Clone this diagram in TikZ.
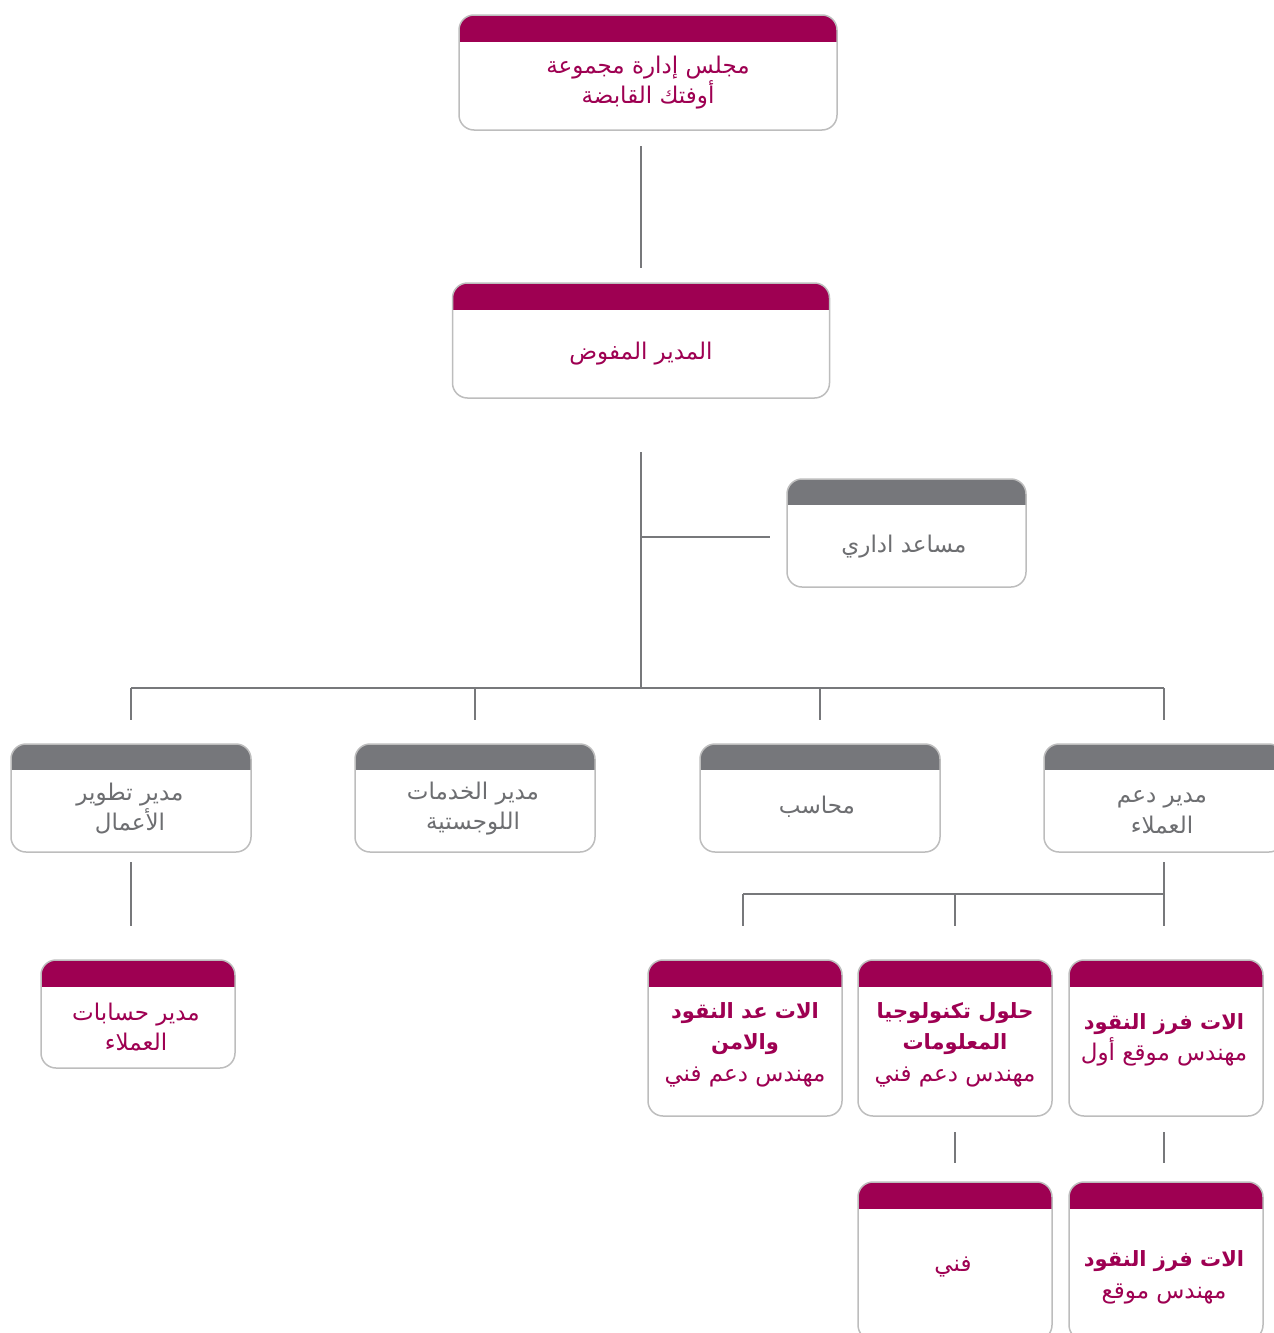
\documentclass[tikz,border=0pt]{standalone}
\usepackage{fontspec}
\usetikzlibrary{calc}
\TeXXeTstate=1
\newfontfamily\arabicfont[Script=Arabic]{DejaVu Sans}
\definecolor{mag}{HTML}{9E0052}
\definecolor{hgray}{HTML}{76777B}
\definecolor{bgray}{HTML}{BDBDBD}
\definecolor{lgray}{HTML}{77787B}
\definecolor{tgray}{HTML}{6D6E71}
\newcommand{\bt}[1]{{\fontsize{21pt}{30pt}\selectfont\bfseries\beginR #1\endR}}
\tikzset{
  orgbox/.style={draw=bgray, line width=1.5pt, fill=white, rounded corners=15pt, inner sep=0pt, outer sep=0pt},
  hdrm/.style={path picture={\fill[mag,sharp corners] ([yshift=2pt]path picture bounding box.north west) rectangle ([yshift=-27pt]path picture bounding box.north east);}},
  hdrg/.style={path picture={\fill[hgray,sharp corners] ([yshift=2pt]path picture bounding box.north west) rectangle ([yshift=-26pt]path picture bounding box.north east);}},
  txt/.style={font=\arabicfont\fontsize{23pt}{30pt}\selectfont, align=center, inner sep=0pt},
  mtxt/.style={txt, text=mag},
  gtxt/.style={txt, text=tgray},
  conn/.style={draw=lgray, line width=1.5pt}
}
\begin{document}
\begin{tikzpicture}[x=1pt,y=-1pt]
\useasboundingbox (0,0) rectangle (1274,1333);
% boxes
\node[orgbox,hdrm,minimum width=378pt,minimum height=115pt] (board) at (648,72.5) {};
\node[orgbox,hdrm,minimum width=377pt,minimum height=115pt] (ceo) at (641,340.5) {};
\node[orgbox,hdrg,minimum width=239pt,minimum height=108pt] (asst) at (906.5,533) {};
\node[orgbox,hdrg,minimum width=240pt,minimum height=108pt] (bdm) at (131,798) {};
\node[orgbox,hdrg,minimum width=240pt,minimum height=108pt] (lsm) at (475,798) {};
\node[orgbox,hdrg,minimum width=240pt,minimum height=108pt] (acc) at (820,798) {};
\node[orgbox,hdrg,minimum width=240pt,minimum height=108pt] (csm) at (1164,798) {};
\node[orgbox,hdrm,minimum width=194pt,minimum height=108pt] (cam) at (138,1014) {};
\node[orgbox,hdrm,minimum width=194pt,minimum height=156pt] (cnt) at (745,1038) {};
\node[orgbox,hdrm,minimum width=194pt,minimum height=156pt] (its) at (955,1038) {};
\node[orgbox,hdrm,minimum width=194pt,minimum height=156pt] (srt) at (1166,1038) {};
\node[orgbox,hdrm,minimum width=194pt,minimum height=158pt] (tec) at (955,1261) {};
\node[orgbox,hdrm,minimum width=194pt,minimum height=158pt] (srt2) at (1166,1261) {};
% texts
\node[mtxt] (tboard) at (648,83) {\beginR مجلس إدارة مجموعة\endR\\\beginR أوفتك القابضة\endR};
\node[mtxt] (tceo) at (641,354) {\beginR المدير المفوض\endR};
\node[gtxt] (tasst) at (904,547) {\beginR مساعد اداري\endR};
\node[gtxt] (tbdm) at (130,809) {\beginR مدير تطوير\endR\\\beginR الأعمال\endR};
\node[gtxt] (tlsm) at (473,809) {\beginR مدير الخدمات\endR\\\beginR اللوجستية\endR};
\node[gtxt] (tacc) at (817,807) {\beginR محاسب\endR};
\node[gtxt] (tcsm) at (1162,812) {\beginR مدير دعم\endR\\[1pt]\beginR العملاء\endR};
\node[mtxt] (tcam) at (136,1027) {\beginR مدير حسابات\endR\\\beginR العملاء\endR};
\node[mtxt] (tcnt) at (745,1045) {\bt{الات عد النقود}\\[1pt]\bt{والامن}\\[2pt]\beginR مهندس دعم فني\endR};
\node[mtxt] (tits) at (955,1045) {\bt{حلول تكنولوجيا}\\[1pt]\bt{المعلومات}\\[2pt]\beginR مهندس دعم فني\endR};
\node[mtxt] (tsrt) at (1164,1040) {\bt{الات فرز النقود}\\[1pt]\beginR مهندس موقع أول\endR};
\node[mtxt] (ttec) at (953,1267) {\beginR فني\endR};
\node[mtxt] (tsrt2) at (1164,1277) {\bt{الات فرز النقود}\\[2pt]\beginR مهندس موقع\endR};
% junctions
\coordinate (bus) at (641,688);
\coordinate (abr) at (641,537);
\coordinate (sbus) at (1164,894);
% connectors
\draw[conn] ($(ceo.north |- board.south)+(0,16)$) -- ($(ceo.north)+(0,-15)$);
\draw[conn] ($(ceo.south)+(0,54)$) -- (ceo.south |- bus);
\draw[conn] (abr) -- ($(asst.west |- abr)+(-17,0)$);
\draw[conn] (bdm.north |- bus) -- (csm.north |- bus);
\draw[conn] (bdm.north |- bus) -- ($(bdm.north)+(0,-24)$);
\draw[conn] (lsm.north |- bus) -- ($(lsm.north)+(0,-24)$);
\draw[conn] (acc.north |- bus) -- ($(acc.north)+(0,-24)$);
\draw[conn] (csm.north |- bus) -- ($(csm.north)+(0,-24)$);
\draw[conn] ($(bdm.south)+(0,10)$) -- ($(bdm.south |- cam.north)+(0,-34)$);
\draw[conn] ($(csm.south)+(0,10)$) -- ($(csm.south |- srt.north)+(0,-34)$);
\draw[conn] ($(cnt.north |- sbus)+(-2,0)$) -- (sbus);
\draw[conn] ($(cnt.north |- sbus)+(-2,0)$) -- ($(cnt.north)+(-2,-34)$);
\draw[conn] (its.north |- sbus) -- ($(its.north)+(0,-34)$);
\draw[conn] ($(its.south)+(0,16)$) -- ($(tec.north)+(0,-19)$);
\draw[conn] ($(csm.south |- srt.south)+(0,16)$) -- ($(csm.south |- srt2.north)+(0,-19)$);
\end{tikzpicture}
\end{document}
